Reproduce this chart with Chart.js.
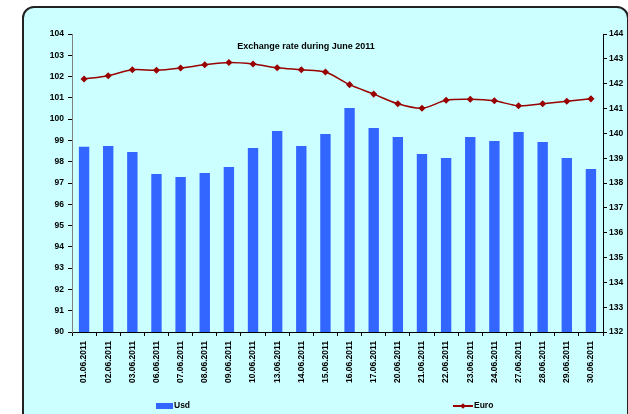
<!DOCTYPE html>
<html>
<head>
<meta charset="utf-8">
<script src="https://cdn.jsdelivr.net/npm/chart.js@4/dist/chart.umd.min.js"></script>
<style>
  html,body{margin:0;padding:0;background:#fff;width:628px;height:414px;overflow:hidden;}
  #frame{position:absolute;left:22px;top:6px;width:603px;height:420px;border:2px solid #222;border-radius:12px;background:#CCFFFF;}
  #wrap{position:absolute;left:0;top:0;width:628px;height:414px;}
  .leg{position:absolute;font:bold 8.5px "Liberation Sans",Arial,sans-serif;color:#000;top:400px;line-height:10px;}
  .sw{position:absolute;}
</style>
</head>
<body>
<div id="frame"></div>
<div id="wrap"><canvas id="c" width="628" height="414"></canvas></div>
<div class="leg" style="left:156px;"><span class="sw" style="left:0;top:3px;width:17px;height:6px;background:#3366FF;"></span><span style="position:absolute;left:18px;top:0;">Usd</span></div>
<div class="leg" style="left:453px;"><span class="sw" style="left:0;top:5px;width:20px;height:1.5px;background:#990000;"></span><span class="sw" style="left:7.5px;top:3.5px;width:4px;height:4px;background:#990000;transform:rotate(45deg);"></span><span style="position:absolute;left:21px;top:0;">Euro</span></div>
<script>
const categories = ["01.06.2011","02.06.2011","03.06.2011","06.06.2011","07.06.2011","08.06.2011","09.06.2011","10.06.2011","13.06.2011","14.06.2011","15.06.2011","16.06.2011","17.06.2011","20.06.2011","21.06.2011","22.06.2011","23.06.2011","24.06.2011","27.06.2011","28.06.2011","29.06.2011","30.06.2011"];
const usd = [98.70,98.74,98.46,97.42,97.28,97.47,97.75,98.65,99.44,98.74,99.30,100.52,99.58,99.16,98.36,98.18,99.16,98.97,99.40,98.93,98.18,97.66];
const euro = [142.19,142.32,142.56,142.54,142.63,142.76,142.85,142.79,142.64,142.56,142.47,141.96,141.58,141.19,141.01,141.33,141.37,141.31,141.11,141.19,141.29,141.39];
const titleText = "Exchange rate during June 2011";

const FONT = "'Liberation Sans', Arial, sans-serif";
const titlePlugin = {
  id:'customTitle',
  afterDraw(chart){
    const ctx = chart.ctx;
    ctx.save();
    ctx.font = "bold 9px " + FONT;
    ctx.fillStyle = "#000";
    ctx.textAlign = "center";
    ctx.textBaseline = "middle";
    ctx.fillText(titleText, 306, 47);
    ctx.restore();
  }
};

new Chart(document.getElementById('c'), {
  type:'bar',
  data:{
    labels: categories,
    datasets:[
      {type:'line', label:'Euro', data: euro, yAxisID:'y1', borderColor:'#990000', backgroundColor:'#990000', borderWidth:1.5, pointStyle:'rectRot', pointRadius:2.5, pointBackgroundColor:'#990000', pointBorderColor:'#990000', tension:0.3, order:0},
      {type:'bar', label:'Usd', data: usd, yAxisID:'y', backgroundColor:'#3366FF', barPercentage:0.43, categoryPercentage:1.0, order:1}
    ]
  },
  options:{
    responsive:false,
    animation:false,
    events:[],
    layout:{padding:{top:34,left:0,right:0,bottom:0}},
    plugins:{legend:{display:false}, title:{display:false}, tooltip:{enabled:false}},
    scales:{
      x:{
        offset:true,
        grid:{offset:true, drawOnChartArea:false, drawTicks:true, tickLength:4, color:'#000'},
        border:{color:'#000', width:1},
        ticks:{autoSkip:false, minRotation:90, maxRotation:90, padding:5, color:'#000', font:{family:FONT, size:8.5, weight:'bold'}},
        afterFit(s){ s.height = 82; }
      },
      y:{
        position:'left', min:90, max:104,
        ticks:{stepSize:1, padding:4, color:'#000', font:{family:FONT, size:8.5, weight:'bold'}},
        grid:{drawOnChartArea:false, tickLength:4, color:'#000'},
        border:{color:'#808080', width:1},
        afterFit(s){ s.width = 72; }
      },
      y1:{
        position:'right', min:132, max:144,
        ticks:{stepSize:1, padding:2, color:'#000', font:{family:FONT, size:8.5, weight:'bold'}},
        grid:{drawOnChartArea:false, tickLength:4, color:'#000'},
        border:{color:'#000', width:1},
        afterFit(s){ s.width = 25; }
      }
    }
  },
  plugins:[titlePlugin]
});
</script>
</body>
</html>
